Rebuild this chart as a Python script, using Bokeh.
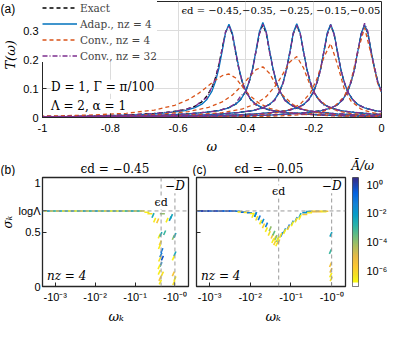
import math
import numpy as np
from bokeh.plotting import figure
from bokeh.layouts import column, row
from bokeh.core.properties import value
from bokeh.models import (Range1d, Legend, LegendItem, Label, Span, FixedTicker,
                          CustomJSTickFormatter, LogColorMapper, ColumnDataSource)
from bokeh.transform import transform
from bokeh.embed import file_html
from bokeh.resources import INLINE

# ---------------- data: panel (a) ----------------
eps_d = [-0.45, -0.35, -0.25, -0.15, -0.05]
omega_offset = [-0.95, -0.75, -0.55, -0.45, -0.35, -0.28, -0.22, -0.17, -0.13, -0.10, -0.08, -0.065,
                -0.05, -0.04, -0.03, -0.02, -0.01, 0.0, 0.01, 0.02, 0.03, 0.04, 0.05, 0.065,
                0.08, 0.10, 0.13, 0.17, 0.22, 0.28, 0.35, 0.45]
T_exact = [
    [0.0012, 0.0018, 0.0032, 0.0048, 0.007, 0.0098, 0.014, 0.0195, 0.027, 0.039, 0.054, 0.074, 0.104, 0.136, 0.180, 0.238, 0.294, 0.318, 0.286, 0.222, 0.163, 0.119, 0.088, 0.060, 0.044, 0.032, 0.023, 0.017, 0.012, 0.0085, 0.006, 0.004],
    [0.001, 0.0015, 0.0029, 0.0043, 0.0063, 0.009, 0.0127, 0.0178, 0.024, 0.034, 0.046, 0.063, 0.092, 0.124, 0.169, 0.229, 0.291, 0.320, 0.290, 0.227, 0.167, 0.121, 0.090, 0.061, 0.045, 0.033, 0.0235, 0.0172, 0.0122, 0.0085, 0.006, 0.004],
    [0.001, 0.0015, 0.0028, 0.0042, 0.0062, 0.0088, 0.0125, 0.0175, 0.0237, 0.033, 0.045, 0.061, 0.090, 0.121, 0.166, 0.227, 0.289, 0.319, 0.289, 0.227, 0.166, 0.121, 0.089, 0.060, 0.045, 0.033, 0.0235, 0.0172, 0.0122, 0.0086, 0.006, 0.004],
    [0.0009, 0.0014, 0.0027, 0.0041, 0.006, 0.0086, 0.0123, 0.0172, 0.0232, 0.0325, 0.044, 0.060, 0.089, 0.120, 0.165, 0.225, 0.288, 0.318, 0.289, 0.226, 0.166, 0.121, 0.090, 0.061, 0.045, 0.033, 0.0235, 0.0175, 0.0125, 0.0088, 0.0062, 0.0042],
    [0.0009, 0.0014, 0.0027, 0.004, 0.0059, 0.0085, 0.0122, 0.017, 0.023, 0.032, 0.044, 0.060, 0.089, 0.120, 0.165, 0.225, 0.288, 0.318, 0.288, 0.225, 0.165, 0.120, 0.088, 0.060, 0.044, 0.032, 0.023, 0.017, 0.012, 0.0085, 0.006, 0.004],
]
T_adap = [
    [0.001, 0.0015, 0.0028, 0.0042, 0.0062, 0.0088, 0.0126, 0.0177, 0.024, 0.034, 0.046, 0.062, 0.091, 0.123, 0.168, 0.229, 0.293, 0.322, 0.291, 0.227, 0.167, 0.122, 0.091, 0.062, 0.045, 0.033, 0.0235, 0.0173, 0.0123, 0.0087, 0.0061, 0.0041],
    [0.001, 0.0015, 0.0028, 0.0042, 0.0062, 0.0089, 0.0126, 0.0177, 0.0238, 0.0335, 0.046, 0.062, 0.092, 0.124, 0.170, 0.232, 0.297, 0.328, 0.296, 0.230, 0.168, 0.122, 0.091, 0.061, 0.045, 0.033, 0.0235, 0.0172, 0.0123, 0.0086, 0.006, 0.004],
    [0.001, 0.0015, 0.0028, 0.0042, 0.0062, 0.0088, 0.0125, 0.0176, 0.0237, 0.0332, 0.0452, 0.0615, 0.091, 0.122, 0.168, 0.229, 0.293, 0.323, 0.292, 0.228, 0.167, 0.121, 0.090, 0.061, 0.045, 0.033, 0.0235, 0.0173, 0.0124, 0.0087, 0.0061, 0.0041],
    [0.0009, 0.0014, 0.0027, 0.0041, 0.006, 0.0087, 0.0124, 0.0174, 0.0234, 0.0328, 0.045, 0.061, 0.090, 0.122, 0.167, 0.228, 0.292, 0.322, 0.291, 0.227, 0.167, 0.122, 0.090, 0.061, 0.045, 0.033, 0.0235, 0.0175, 0.0125, 0.0088, 0.0062, 0.0042],
    [0.0009, 0.0014, 0.0027, 0.004, 0.0059, 0.0085, 0.0122, 0.0171, 0.0231, 0.0322, 0.044, 0.060, 0.090, 0.121, 0.166, 0.227, 0.290, 0.320, 0.290, 0.226, 0.166, 0.121, 0.089, 0.060, 0.044, 0.032, 0.023, 0.017, 0.012, 0.0085, 0.006, 0.004],
]
T_conv32 = [
    [0.0012, 0.0018, 0.0033, 0.0048, 0.0071, 0.0097, 0.0142, 0.0193, 0.0275, 0.0375, 0.058, 0.068, 0.106, 0.134, 0.182, 0.236, 0.296, 0.316, 0.287, 0.224, 0.165, 0.118, 0.089, 0.061, 0.043, 0.033, 0.0225, 0.0172, 0.0118, 0.0086, 0.0059, 0.0042],
    [0.001, 0.0016, 0.0028, 0.0045, 0.006, 0.0092, 0.0123, 0.0181, 0.0232, 0.0345, 0.049, 0.075, 0.088, 0.127, 0.166, 0.232, 0.288, 0.322, 0.292, 0.224, 0.170, 0.118, 0.092, 0.058, 0.047, 0.032, 0.0245, 0.0168, 0.0127, 0.0083, 0.0063, 0.0039],
    [0.001, 0.0014, 0.0029, 0.0041, 0.0064, 0.0086, 0.0128, 0.0171, 0.0242, 0.0322, 0.047, 0.059, 0.093, 0.118, 0.169, 0.223, 0.292, 0.318, 0.291, 0.229, 0.163, 0.124, 0.087, 0.063, 0.043, 0.035, 0.0228, 0.018, 0.0121, 0.009, 0.0059, 0.0043],
    [0.0009, 0.0015, 0.0026, 0.0043, 0.0058, 0.0089, 0.012, 0.0178, 0.0226, 0.0335, 0.043, 0.062, 0.087, 0.123, 0.162, 0.228, 0.285, 0.320, 0.286, 0.229, 0.163, 0.124, 0.088, 0.063, 0.043, 0.034, 0.0228, 0.018, 0.0121, 0.009, 0.006, 0.0043],
    [0.0009, 0.0015, 0.0026, 0.0042, 0.0058, 0.0087, 0.012, 0.0173, 0.0226, 0.0328, 0.043, 0.062, 0.087, 0.124, 0.162, 0.232, 0.283, 0.325, 0.296, 0.218, 0.172, 0.114, 0.093, 0.058, 0.046, 0.031, 0.024, 0.0165, 0.0125, 0.0083, 0.0062, 0.0039],
]
conv_offset = [-0.95, -0.7, -0.5, -0.4, -0.3, -0.22, -0.16, -0.12, -0.09, -0.06, -0.04, -0.02, 0.0,
               0.02, 0.04, 0.06, 0.09, 0.12, 0.16, 0.22, 0.3, 0.4, 0.5]
T_conv4 = [
    [0.0016, 0.003, 0.0058, 0.0088, 0.015, 0.0257, 0.0421, 0.0615, 0.0829, 0.110, 0.129, 0.144, 0.150, 0.136, 0.106, 0.0774, 0.0483, 0.0316, 0.0196, 0.011, 0.0061, 0.0035, 0.0023],
    [0.0012, 0.0023, 0.0044, 0.0067, 0.0116, 0.0204, 0.035, 0.0538, 0.0772, 0.112, 0.140, 0.165, 0.175, 0.152, 0.110, 0.075, 0.0438, 0.0277, 0.0167, 0.0093, 0.0051, 0.0029, 0.0019],
    [0.001, 0.0018, 0.0035, 0.0054, 0.0094, 0.0169, 0.0297, 0.0476, 0.072, 0.113, 0.152, 0.192, 0.210, 0.171, 0.110, 0.069, 0.0376, 0.0229, 0.0135, 0.0074, 0.004, 0.0023, 0.0015],
    [0.0005, 0.0009, 0.0018, 0.0028, 0.0049, 0.009, 0.0164, 0.0278, 0.0456, 0.0839, 0.134, 0.208, 0.255, 0.183, 0.0995, 0.0565, 0.0286, 0.0169, 0.0098, 0.0053, 0.0029, 0.0016, 0.001],
    [0.0004, 0.0007, 0.0013, 0.0021, 0.0037, 0.0068, 0.0127, 0.0218, 0.0367, 0.072, 0.1256, 0.227, 0.310, 0.215, 0.1116, 0.062, 0.031, 0.018, 0.0107, 0.0058, 0.0031, 0.0018, 0.0011],
]
a_xticks = [-1, -0.8, -0.6, -0.4, -0.2, 0]
a_yticks = [0, 0.1, 0.2, 0.3]
series_labels = ["Exact", "Adap., nz = 4", "Conv., nz = 4", "Conv., nz = 32"]
eps_text = "ϵd = −0.45,−0.35, −0.25, −0.15,−0.05"

# ---------------- data: panel (b), eps_d = -0.45 ----------------
wk_b = [-5.01e-4, -6.03e-4, -7.08e-4, -8.51e-4, -1.00e-3, -1.20e-3, -1.41e-3, -1.70e-3, -2.00e-3,
        -2.40e-3, -2.82e-3, -3.39e-3, -3.98e-3, -4.79e-3, -5.62e-3, -6.76e-3, -7.94e-3, -9.55e-3,
        -1.12e-2, -1.35e-2, -1.58e-2, -1.91e-2, -2.24e-2, -2.69e-2, -3.16e-2, -3.80e-2, -4.47e-2,
        -5.37e-2, -6.31e-2, -7.59e-2, -8.91e-2, -0.107, -0.126, -0.151,
        -0.198, -0.236, -0.282, -0.31, -0.37, -0.484, -0.635, -0.764, -0.819, -0.405, -0.445, -0.552,
        -0.912, -1.0, -0.445, -0.484, -0.445, -0.405, -0.484, -0.421, -0.43, -1.0, -0.912, -0.912,
        -1.0, -0.94, -0.41, -0.43, -0.47, -0.40, -0.415]
sigma_b = [0.693] * 34 + [
        0.681, 0.667, 0.652, 0.609, 0.603, 0.667, 0.609, 0.623, 0.643, 0.463, 0.478, 0.493,
        0.45, 0.47, 0.29, 0.26, 0.203, 0.13, 0.116, 0.072, 0.04, 0.30, 0.26, 0.116,
        0.072, 0.035, 0.365, 0.40, 0.33, 0.18, 0.25]
Abar_b = [4e-3, 5e-7, 2e-2, 3e-7, 3e-3, 1e-6, 1e-2, 3e-7, 5e-3, 5e-7, 2e-2, 3e-7, 3e-3, 1e-6, 1e-2,
          3e-7, 4e-3, 5e-7, 2e-2, 3e-7, 3e-3, 1e-6, 1e-2, 3e-7, 5e-3, 5e-7, 2e-2, 3e-7, 3e-3, 1e-6,
          1e-2, 3e-7, 4e-3, 5e-7,
          3e-7, 5e-7, 3e-3, 3e-7, 3e-6, 1e-4, 3e-7, 2e-2, 4e-3, 3e-7, 3e-3, 1e-3, 1e-4, 4e-3, 5e-2,
          0.5, 3e-2, 3e-7, 5e-7, 3e-6, 3e-7, 4e-3, 2e-7, 3e-6, 3e-7, 5e-7, 3e-7, 1e-6, 0.1, 3e-7, 5e-7]

# ---------------- data: panel (c), eps_d = -0.05 ----------------
wk_c = [-5.01e-4, -6.03e-4, -7.08e-4, -8.51e-4, -1.00e-3, -1.20e-3, -1.41e-3, -1.70e-3, -2.00e-3,
        -2.40e-3, -2.82e-3, -3.39e-3, -3.98e-3,
        -4.79e-3, -5.62e-3, -6.76e-3, -7.94e-3, -9.55e-3, -1.12e-2, -1.35e-2,
        -0.01164, -0.01445, -0.01799, -0.02113, -0.02489, -0.02931, -0.03451, -0.04055,
        -0.0135, -0.0166, -0.0204, -0.0251, -0.0309, -0.038,
        -0.036, -0.040, -0.045, -0.050, -0.043, -0.047,
        -0.0594, -0.0699, -0.0868, -0.1079, -0.134, -0.1667, -0.2186, -0.2716, -0.3565, -0.4677, -0.6137, -0.7215,
        -0.0478, -0.0562, -0.0699, -0.0868, -0.1079, -0.134, -0.1667, -0.2186, -0.2868, -0.3765, -0.494, -0.647,
        -0.96, -0.93, -0.96, -0.95, -0.975, -0.94]
sigma_c = [0.693] * 13 + [
        0.69, 0.685, 0.682, 0.68, 0.676, 0.67, 0.66,
        0.652, 0.626, 0.591, 0.557, 0.522, 0.487, 0.461, 0.443,
        0.66, 0.63, 0.60, 0.565, 0.53, 0.49,
        0.42, 0.40, 0.39, 0.41, 0.45, 0.43,
        0.478, 0.513, 0.548, 0.583, 0.617, 0.652, 0.678, 0.687, 0.69, 0.69, 0.69, 0.69,
        0.435, 0.47, 0.504, 0.539, 0.574, 0.609, 0.635, 0.661, 0.678, 0.687, 0.687, 0.687,
        0.478, 0.32, 0.148, 0.104, 0.07, 0.2]
Abar_c = [1.5, 0.3, 2.0, 0.5, 1.0, 0.2, 2.0, 0.4, 1.2, 0.15, 1.5, 0.3, 0.8,
          0.1, 3e-7, 0.2, 5e-7, 0.08, 3e-7, 0.05,
          3e-7, 5e-7, 3e-7, 1e-6, 3e-7, 5e-7, 3e-6, 3e-7,
          3e-2, 0.1, 2e-2, 5e-2, 1e-4, 3e-4,
          3e-7, 1e-6, 3e-7, 3e-6, 1e-4, 5e-4,
          5e-2, 3e-2, 0.1, 2e-2, 5e-2, 3e-3, 2e-2, 1e-2, 3e-7, 1e-6, 3e-7, 5e-6,
          3e-7, 5e-7, 3e-7, 1e-6, 3e-7, 5e-7, 3e-7, 2e-6, 3e-7, 1e-5, 3e-6, 3e-7,
          5e-3, 1e-3, 1e-5, 3e-7, 5e-7, 3e-6]
log_Lambda = 0.6931
bc_xticks = [1e-3, 1e-2, 1e-1, 1.0]
bc_yticks = [0, 0.5, 0.6931, 1]
cb_ticks = [1e-6, 1e-4, 1e-2, 1.0]

# ---------------- styling ----------------
SANS = "Liberation Sans"
SERIF = "DejaVu Serif"
AX = "#262626"
DASHC = "#9a9a9a"

num_fmt = CustomJSTickFormatter(code="""
    if (Math.abs(tick) < 1e-9) return '0';
    return String(Number(tick.toFixed(2)));
""")
negpow_fmt = CustomJSTickFormatter(code="""
    const e = Math.round(Math.log10(tick));
    const sup = {'0':'\u2070','1':'\u00b9','2':'\u00b2','3':'\u00b3','4':'\u2074'};
    return '-10\u207b' + sup[String(Math.abs(e))];
""")
pow_fmt = CustomJSTickFormatter(code="""
    const e = Math.round(Math.log10(tick));
    const sup = {'0':'\u2070','1':'\u00b9','2':'\u00b2','3':'\u00b3','4':'\u2074','5':'\u2075','6':'\u2076','7':'\u2077','-':'\u207b'};
    return '10' + String(e).split('').map(c => sup[c]).join('');
""")
sig_fmt = CustomJSTickFormatter(code="""
    if (Math.abs(tick - 0.6931) < 1e-3) return 'log\u039b';
    if (Math.abs(tick) < 1e-9) return '0';
    return String(tick);
""")
empty_fmt = CustomJSTickFormatter(code="return '';")


def style(p, frame_w=1.0):
    for ax in (p.xaxis[0], p.yaxis[0]):
        ax.major_tick_in = 4
        ax.major_tick_out = 0
        ax.minor_tick_line_color = None
        ax.axis_line_color = AX
        ax.major_tick_line_color = AX
        ax.major_label_text_font = SANS
        ax.major_label_text_font_size = "11px"
        ax.major_label_text_color = "black"
    p.outline_line_color = AX
    p.outline_line_width = frame_w
    p.outline_line_alpha = 1.0
    p.background_fill_color = "white"
    p.border_fill_color = "white"


def blank(w, h):
    p = figure(width=w, height=h, x_range=Range1d(0, w), y_range=Range1d(h, 0),
               output_backend="svg", toolbar_location=None, title=None,
               x_axis_location=None, y_axis_location=None,
               min_border_left=0, min_border_right=0, min_border_top=0, min_border_bottom=0)
    p.outline_line_color = None
    p.grid.grid_line_color = None
    p.background_fill_color = "white"
    p.border_fill_color = "white"
    return p


def txt(p, x, y, text, font=SERIF, size="11px", style_="normal", align="left",
        baseline="middle", angle=0.0, bg=None):
    p.add_layout(Label(x=x, y=y, text=text, text_font=font, text_font_size=size,
                       text_font_style=style_, text_align=align, text_baseline=baseline,
                       angle=angle, text_color="black", background_fill_color=bg))


# ---------------- panel (a) ----------------
letter_a = blank(18, 137)
txt(letter_a, 0, 1, "(a)", font=SANS, size="12px", baseline="top")
txt(letter_a, 10, 63, "T(ω)", size="13px", style_="italic", align="center",
    angle=math.pi / 2)

pa = figure(width=372, height=137, x_range=Range1d(-1, 0), y_range=Range1d(0, 0.4),
            output_backend="svg", toolbar_location=None, title=None,
            min_border_left=24, min_border_right=9, min_border_top=1, min_border_bottom=20)
style(pa)
pa.xaxis.ticker = FixedTicker(ticks=a_xticks)
pa.yaxis.ticker = FixedTicker(ticks=a_yticks)
pa.xaxis.formatter = num_fmt
pa.yaxis.formatter = num_fmt
pa.xaxis.major_label_standoff = 6
pa.yaxis.major_label_standoff = 4
pa.xgrid.grid_line_color = "#dcdcdc"
pa.ygrid.grid_line_color = "#dcdcdc"

xs_main = [[e + g for g in omega_offset] for e in eps_d]
xs_conv = [[e + g for g in conv_offset] for e in eps_d]

r_exact = pa.multi_line(xs_main, T_exact, line_color="black", line_dash="4 3", line_width=1.3)
r_adap = pa.multi_line(xs_main, T_adap, line_color="#0072BD", line_width=1.3)
r_c4 = pa.multi_line(xs_conv, T_conv4, line_color="#D95319", line_dash="4 3", line_width=1.3)
r_c32 = pa.multi_line(xs_main, T_conv32, line_color="#7E2F8E", line_dash="5 2 1 2", line_width=1.3)

legend = Legend(items=[LegendItem(label=lab, renderers=[r]) for lab, r in
                       zip(series_labels, [r_exact, r_adap, r_c4, r_c32])],
                location="top_left", margin=0, padding=6, spacing=3,
                glyph_width=35, glyph_height=13, label_height=13, label_standoff=3,
                label_text_font=SERIF, label_text_font_size="10.5px",
                border_line_color=None, background_fill_alpha=1.0)
pa.add_layout(legend)

# title-like annotation anchored at the right edge of panel (a)
pa.text(x=[-0.003], y=[0.389], text=[eps_text], text_font=value(SERIF),
        text_font_size=value("10px"), text_align="right", text_baseline="top",
        text_color="black")
txt(pa, -0.975, 0.106, "D = 1, Γ = π/100", size="12px", bg="white")
txt(pa, -0.975, 0.040, "Λ = 2, α = 1", size="12px", bg="white")

# ---------------- strip between (a) and (b)/(c) ----------------
strip1 = blank(390, 39)
txt(strip1, 206, 9, "ω", size="13px", style_="italic", align="left")
txt(strip1, 0, 25, "(b)", font=SANS, size="12px", baseline="top")
txt(strip1, 80, 31, "ϵd = −0.45", size="12px", align="left")
txt(strip1, 192, 25, "(c)", font=SANS, size="12px", baseline="top")
txt(strip1, 234, 31, "ϵd = −0.05", size="12px", align="left")
txt(strip1, 351, 21, "Ā/ω", size="12px", style_="italic", baseline="top")

# ---------------- colour mapping ----------------
stops = [(0.0, (53, 42, 135)), (0.15, (3, 99, 225)), (0.25, (20, 129, 214)), (0.35, (6, 156, 200)),
         (0.45, (40, 178, 170)), (0.55, (100, 190, 130)), (0.65, (170, 190, 95)),
         (0.75, (230, 185, 70)), (0.85, (253, 200, 50)), (0.93, (245, 225, 35)), (1.0, (249, 251, 14))]


def parula(t):
    for (t0, c0), (t1, c1) in zip(stops[:-1], stops[1:]):
        if t <= t1:
            f = (t - t0) / (t1 - t0)
            return "#%02x%02x%02x" % tuple(int(round(a + (b - a) * f)) for a, b in zip(c0, c1))
    return "#%02x%02x%02x" % stops[-1][1]


n_white, n_col = 9, 247
palette = ["#ffffff"] * n_white + [parula(1 - i / (n_col - 1)) for i in range(n_col)]
cb_low, cb_high = 10 ** -7.12, 10 ** 0.524
mapper = LogColorMapper(palette=palette, low=cb_low, high=cb_high)


def sigma_panel(wk, sig, Abar, eps, width, mbl, mbr, show_ylabels, eps_label_y):
    p = figure(width=width, height=132, x_axis_type="log",
               x_range=Range1d(10 ** -3.32, 10 ** 0.34), y_range=Range1d(0, 1),
               output_backend="svg", toolbar_location=None, title=None,
               min_border_left=mbl, min_border_right=mbr, min_border_top=1, min_border_bottom=22)
    style(p, 1.3)
    p.xgrid.grid_line_color = None
    p.ygrid.grid_line_color = None
    p.xaxis.ticker = FixedTicker(ticks=bc_xticks)
    p.xaxis.formatter = negpow_fmt
    p.xaxis.major_label_standoff = 4
    p.yaxis.ticker = FixedTicker(ticks=bc_yticks)
    if show_ylabels:
        p.yaxis.formatter = sig_fmt
        p.yaxis.major_label_standoff = 2
    else:
        p.yaxis.formatter = empty_fmt
        p.yaxis.major_label_standoff = 0
    for loc, dim in ((log_Lambda, "width"), (-eps, "height"), (1.0, "height")):
        p.add_layout(Span(location=loc, dimension=dim, line_color=DASHC, line_dash="4 3",
                          line_width=1))
    w = -np.array(wk)
    s = np.array(sig)
    src = ColumnDataSource(dict(w=w, s=s, A=np.array(Abar), ang=np.where(s > 0.66, 0.0, 1.15)))
    p.scatter(x="w", y="s", source=src, marker="dash", size=5, line_width=1.6, angle="ang",
              color=transform("A", mapper))
    txt(p, -eps, eps_label_y, "ϵd", size="11px", align="center", baseline="top", bg="white")
    txt(p, 1.0, 0.985, "−D", size="12px", style_="italic", align="center", baseline="top",
        bg="white")
    txt(p, 6.2e-4, 0.03, "nz = 4", size="12px", style_="italic", baseline="bottom")
    return p


letter_b = blank(15, 132)
txt(letter_b, 7.5, 54, "σₖ", size="12px", style_="italic", align="center", angle=math.pi / 2)

pb = sigma_panel(wk_b, sigma_b, Abar_b, eps_d[0], 177, 23, 4, True, 0.83)
pc = sigma_panel(wk_c, sigma_c, Abar_c, eps_d[4], 160, 4, 7, False, 0.93)

# colour bar drawn as its own small figure, using the same mapper and a log axis
cb_vals = 10 ** np.linspace(np.log10(cb_low), np.log10(cb_high), 256)
cbfig = figure(width=38, height=132, x_range=Range1d(0, 1), y_range=Range1d(cb_low, cb_high),
               y_axis_type="log", x_axis_location=None, y_axis_location="right",
               output_backend="svg", toolbar_location=None, title=None,
               min_border_left=0, min_border_right=28, min_border_top=1, min_border_bottom=16)
cbfig.image(image=[cb_vals.reshape(-1, 1)], x=0, y=cb_low, dw=1, dh=cb_high - cb_low,
            color_mapper=mapper)
cbfig.grid.grid_line_color = None
cbfig.outline_line_color = "#555555"
cbfig.border_fill_color = "white"
cbfig.yaxis.ticker = FixedTicker(ticks=cb_ticks)
cbfig.yaxis.formatter = pow_fmt
cbfig.yaxis.major_tick_in = 0
cbfig.yaxis.major_tick_out = 0
cbfig.yaxis.minor_tick_line_color = None
cbfig.yaxis.axis_line_color = None
cbfig.yaxis.major_label_standoff = 8
cbfig.yaxis.major_label_text_font = SANS
cbfig.yaxis.major_label_text_font_size = "11px"
cbfig.yaxis.major_label_text_color = "black"

strip2 = blank(390, 17)
txt(strip2, 108, 8, "ωₖ", size="13px", style_="italic", align="left")
txt(strip2, 265, 8, "ωₖ", size="13px", style_="italic", align="left")

layout = column(row(letter_a, pa), strip1, row(letter_b, pb, pc, cbfig), strip2)
open("out.html", "w").write(file_html(layout, INLINE, title="NRG transmission"))
